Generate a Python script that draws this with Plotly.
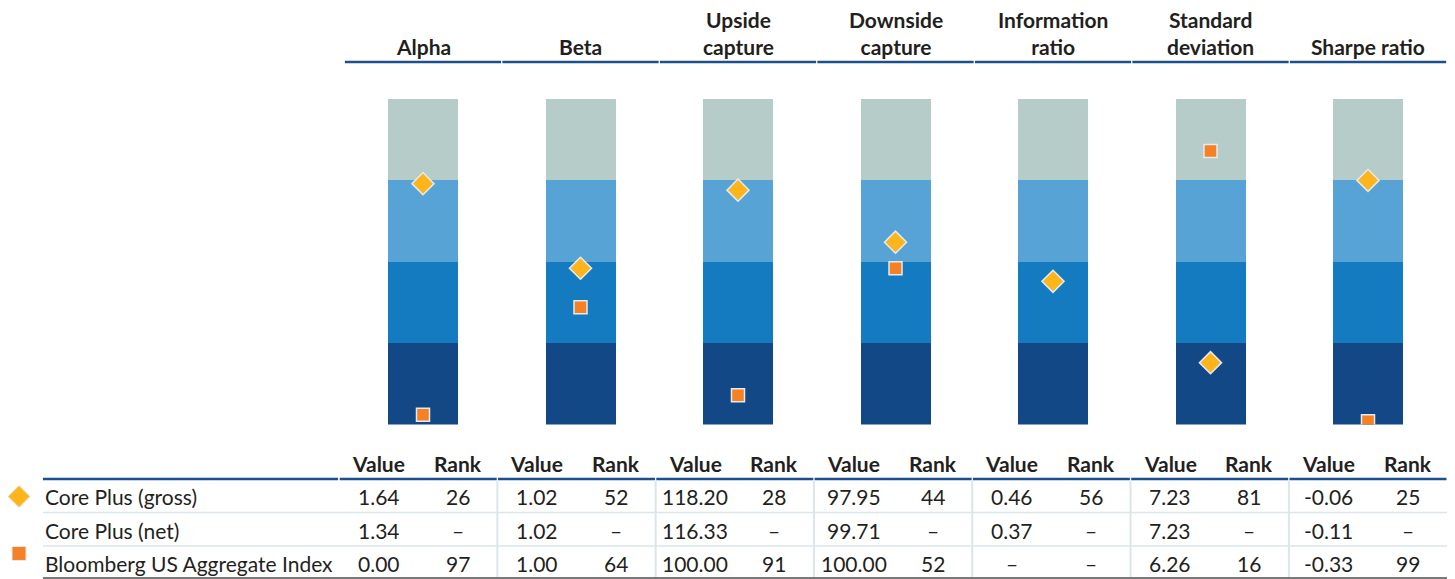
import plotly.graph_objects as go

# ---------------- data ----------------
metrics = ["Alpha", "Beta", "Upside<br>capture", "Downside<br>capture",
           "Information<br>ratio", "Standard<br>deviation", "Sharpe ratio"]
quartile_labels = ["1st quartile", "2nd quartile", "3rd quartile", "4th quartile"]
quartile_size = [25, 25, 25, 25]

series_names = ["Core Plus (gross)", "Core Plus (net)", "Bloomberg US Aggregate Index"]
gross_value = ["1.64", "1.02", "118.20", "97.95", "0.46", "7.23", "-0.06"]
gross_rank = [26, 52, 28, 44, 56, 81, 25]
net_value = ["1.34", "1.02", "116.33", "99.71", "0.37", "7.23", "-0.11"]
net_rank = [None, None, None, None, None, None, None]
index_value = ["0.00", "1.00", "100.00", "100.00", None, "6.26", "-0.33"]
index_rank = [97, 64, 91, 52, None, 16, 99]

# ---------------- style ----------------
W, H = 1455, 579
FONT = "Lato"
TXT = "#231F20"
Q_COLORS = ["#B5CCC9", "#57A3D5", "#157BC0", "#134887"]
DIAMOND = "#FDB51B"
SQUARE = "#F58025"
OUTLINE = "#E4EBEE"
NAVY = "#1B4F8E"
LIGHT = "#DCE6EA"
FS = 21

# bar axis calibration (column index units)
c0, step = 423.0, 157.5
x_range = [-c0 / step, (W - c0) / step]
# table axis calibration
t0, tstep = 418.2, 158.3
x2_range = [-t0 / tstep, (W - t0) / tstep]
r0, rstep = 463.0, 33.5
y2_range = [(H - r0) / rstep, -r0 / rstep]

bar_top_px, bar_bot_px = 99.0, 424.5
y_domain = [(H - bar_bot_px) / H, (H - bar_top_px) / H]

def py(px):
    return (H - px) / H

ncol = len(metrics)
cols = list(range(ncol))

fig = go.Figure()

# quartile bars
for qi, (lab, sz) in enumerate(zip(quartile_labels, quartile_size)):
    fig.add_trace(go.Bar(
        x=cols, y=[sz] * ncol, name=lab, marker_color=Q_COLORS[qi],
        marker_line_width=0, width=70 / step, xaxis="x", yaxis="y",
        showlegend=False, hoverinfo="skip"))

# index squares
ix = [c for c, r in zip(cols, index_rank) if r is not None]
iy = [r for r in index_rank if r is not None]
fig.add_trace(go.Scatter(
    x=ix, y=iy, mode="markers", name=series_names[2], xaxis="x", yaxis="y",
    marker=dict(symbol="square", size=13, color=SQUARE,
                line=dict(color=OUTLINE, width=1.5)), showlegend=False))
# gross diamonds
fig.add_trace(go.Scatter(
    x=cols, y=gross_rank, mode="markers", name=series_names[0], xaxis="x", yaxis="y",
    marker=dict(symbol="diamond", size=17, color=DIAMOND,
                line=dict(color=OUTLINE, width=1.5)), showlegend=False))

# legend glyphs in the table
lx = (19 - t0) / tstep
fig.add_trace(go.Scatter(
    x=[lx], y=[1], mode="markers", xaxis="x2", yaxis="y2", showlegend=False,
    marker=dict(symbol="diamond", size=17, color=DIAMOND, line=dict(color=OUTLINE, width=1))))
fig.add_trace(go.Scatter(
    x=[lx], y=[2.7], mode="markers", xaxis="x2", yaxis="y2", showlegend=False,
    marker=dict(symbol="square", size=14, color=SQUARE, line=dict(color=OUTLINE, width=1))))

ann = []
shapes = []

# column headers
for c, m in zip(cols, metrics):
    ann.append(dict(x=c, y=py(61), xref="x", yref="paper", text="<b>" + m + "</b>",
                    showarrow=False, xanchor="center", yanchor="bottom",
                    font=dict(family=FONT, size=FS, color=TXT)))
    shapes.append(dict(type="line", xref="x", yref="paper",
                       x0=c - 0.5 + 0.004, x1=c + 0.5 - 0.004, y0=py(62), y1=py(62),
                       line=dict(color=NAVY, width=2.5)))

# table
rows = [(gross_value, gross_rank), (net_value, net_rank), (index_value, index_rank)]
def fmt(v):
    return "–" if v is None else str(v)

for c in cols:
    ann.append(dict(x=c - 0.25, y=0, xref="x2", yref="y2", text="<b>Value</b>",
                    showarrow=False, font=dict(family=FONT, size=FS, color=TXT)))
    ann.append(dict(x=c + 0.25, y=0, xref="x2", yref="y2", text="<b>Rank</b>",
                    showarrow=False, font=dict(family=FONT, size=FS, color=TXT)))
    for ri, (vals, ranks) in enumerate(rows):
        ann.append(dict(x=c - 0.25, y=ri + 1, xref="x2", yref="y2", text=fmt(vals[c]),
                        showarrow=False, font=dict(family=FONT, size=FS, color=TXT)))
        ann.append(dict(x=c + 0.25, y=ri + 1, xref="x2", yref="y2", text=fmt(ranks[c]),
                        showarrow=False, font=dict(family=FONT, size=FS, color=TXT)))
    # table header line segments
    shapes.append(dict(type="line", xref="x2", yref="y2",
                       x0=c - 0.5 + 0.004, x1=c + 0.5 - 0.004, y0=0.48, y1=0.48,
                       line=dict(color=NAVY, width=2.5)))
    if c < ncol - 1:
        shapes.append(dict(type="line", xref="x2", yref="y2",
                           x0=c + 0.5, x1=c + 0.5, y0=0.53, y1=3.42,
                           line=dict(color=LIGHT, width=2)))

# header line over label column
shapes.append(dict(type="line", xref="paper", yref="y2", x0=43 / W, x1=(t0 - 0.5 * tstep - 1) / W,
                   y0=0.48, y1=0.48, line=dict(color=NAVY, width=2.5)))
for yy in [1.48, 2.48]:
    shapes.append(dict(type="line", xref="paper", yref="y2", x0=43 / W, x1=1447 / W,
                       y0=yy, y1=yy, line=dict(color=LIGHT, width=1.5)))
shapes.append(dict(type="line", xref="paper", yref="y2", x0=43 / W, x1=1447 / W,
                   y0=3.43, y1=3.43, line=dict(color="#4D4D4D", width=1.5)))

for ri, name in enumerate(series_names):
    ann.append(dict(x=43 / W, y=ri + 1, xref="paper", yref="y2", text=name,
                    showarrow=False, xanchor="left",
                    font=dict(family=FONT, size=FS, color=TXT)))

fig.update_layout(
    width=W, height=H, margin=dict(l=0, r=0, t=0, b=0),
    paper_bgcolor="white", plot_bgcolor="rgba(0,0,0,0)",
    barmode="stack", bargap=0, showlegend=False,
    xaxis=dict(domain=[0, 1], range=x_range, visible=False, fixedrange=True),
    yaxis=dict(domain=y_domain, range=[100, 0], visible=False, fixedrange=True),
    xaxis2=dict(domain=[0, 1], range=x2_range, visible=False, anchor="y2", fixedrange=True),
    yaxis2=dict(domain=[0, 1], range=y2_range, visible=False, anchor="x2", fixedrange=True),
    annotations=ann, shapes=shapes,
)

fig.write_html(
    "out.html",
    config={"displayModeBar": False},
    post_script="document.body.style.margin='0';document.body.style.overflow='hidden';",
)
